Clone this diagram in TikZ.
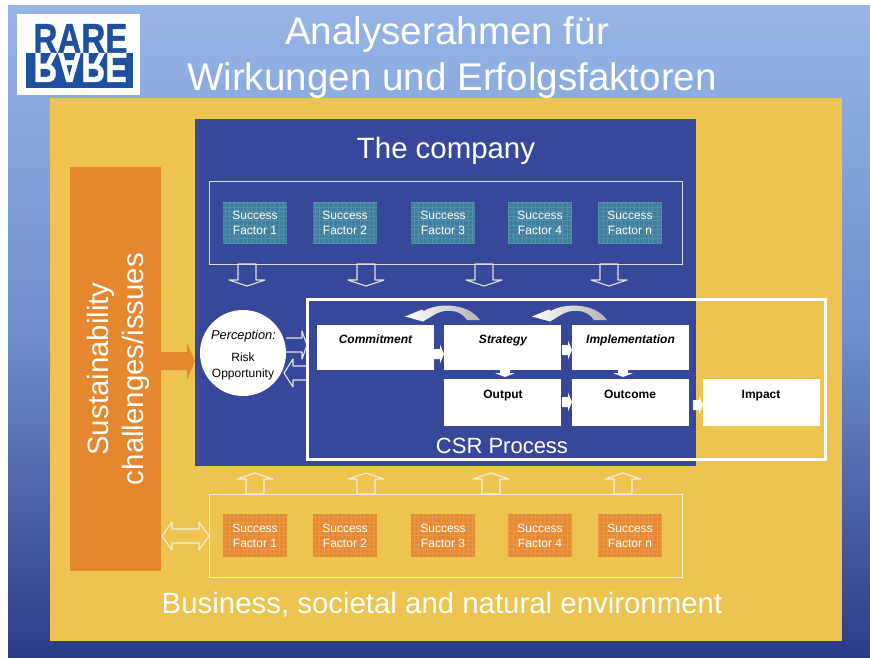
\documentclass[tikz,border=0pt]{standalone}
\usepackage{fontspec}
\setmainfont{Liberation Sans}
\newfontfamily\logofont{Liberation Sans Bold}[FakeBold=1.2]
\definecolor{bgtop}{HTML}{97B5E6}
\definecolor{bgmid}{HTML}{6F8FCB}
\definecolor{bgbot}{HTML}{2A3B85}
\definecolor{envyellow}{HTML}{ECC44F}
\definecolor{compblue}{HTML}{37489A}
\definecolor{issueorange}{HTML}{E5872E}
\definecolor{sfteal}{HTML}{3F7F9E}
\definecolor{sforange}{HTML}{E68A32}
\definecolor{logoblue}{HTML}{1F4F9F}
\definecolor{softwhite}{HTML}{F5F0D8}
\tikzset{
  x=1pt,y=-1pt,
  every node/.style={inner sep=0pt,outer sep=0pt,align=center,font=\fontsize{12}{15}\selectfont},
  factorframe/.style={draw=#1,line width=1pt},
  factorbox/.style={rectangle,minimum width=64pt,minimum height=42.5pt,fill=#1},
  factorgrid/.style={white,opacity=.12,line width=.4pt,step=4.5pt},
  factorlabel/.style={text=white,font=\fontsize{12}{15}\selectfont},
  procbox/.style={rectangle,fill=white,minimum width=117pt},
  proctext/.style={text=black,anchor=base,font=\fontsize{12}{14}\selectfont\bfseries},
  procitalic/.style={text=black,anchor=base,font=\fontsize{12}{14}\selectfont\bfseries\itshape},
  perctext/.style={text=black,anchor=base,font=\fontsize{12}{15}\selectfont},
  outlinearrow/.style={draw=#1,line width=1.1pt,line join=round},
  pics/downblock/.style={code={\draw[outlinearrow=#1] (-9,-22)--(9,-22)--(9,-6)--(18,-6)--(0,0)--(-18,-6)--(-9,-6)--cycle;}},
  pics/upblock/.style={code={\draw[outlinearrow=#1] (-9,21)--(9,21)--(9,6)--(18,6)--(0,0)--(-18,6)--(-9,6)--cycle;}},
  pics/smallright/.style={code={\fill[white] (-10,-5)--(-4,-5)--(-4,-9.5)--(0,0)--(-4,9.5)--(-4,5)--(-10,5)--cycle;}},
  pics/smalldown/.style={code={\fill[white] (-5,-7)--(5,-7)--(5,-4)--(10,-4)--(0,0)--(-10,-4)--(-5,-4)--cycle;}},
  pics/curvearrow/.style={code={\shade[left color=white,middle color=white,right color=black!30]
     (0,0)--(17,-7)--(19,-5.5)..controls (30,-13) and (62,-15) .. (75,3.5)--(62,3.5)
     ..controls (55,-8) and (38,-8) .. (28,-1)--(18,5)--cycle;}},
}
\begin{document}
\begin{tikzpicture}
\useasboundingbox (0,0) rectangle (870,657);
\fill[white] (0,0) rectangle (870,657);
\shade[top color=bgtop,bottom color=bgbot,middle color=bgmid] (8,5) rectangle (870,657);
% logo
\fill[white] (17,14) rectangle (140,95);
\fill[logoblue] (26,53) rectangle (133,88);
\node[text=logoblue,font=\fontsize{42}{42}\logofont,xscale=.79,anchor=base] (logoA) at (80.5,53) {RARE};
\node[text=white,font=\fontsize{42}{42}\logofont,xscale=.79,yscale=-1,anchor=base] (logoB) at (80.5,53) {RARE};
% title
\node[text=white,font=\fontsize{38.6}{44}\selectfont] (title1) at (447,35) {Analyserahmen für};
\node[text=white,font=\fontsize{38.6}{44}\selectfont] (title2) at (452,81) {Wirkungen und Erfolgsfaktoren};
% panels
\fill[envyellow] (50,98) rectangle (842,641);
\fill[compblue] (195,119) rectangle (696,466);
\fill[issueorange] (70,167) rectangle (161,571);
\node[text=white,rotate=90,font=\fontsize{29.4}{35}\selectfont] (issues) at (118,369) {Sustainability\\challenges/issues};
\node[text=white,font=\fontsize{29.4}{32}\selectfont] (company) at (446,151) {The company};
\node[text=white,font=\fontsize{29.4}{32}\selectfont] (env) at (442,605) {Business, societal and natural environment};
% factor frames
\draw[factorframe=black!15] (209,181) rectangle (682,264);
\draw[factorframe=softwhite] (209,494) rectangle (682,577);
% factor boxes
\foreach \n/\cx/\lab in {a/255/1,b/345/2,c/443/3,d/540/4,e/630/n}{
  \node[factorbox=sfteal] (top\n) at (\cx,223) {};
  \draw[factorgrid] (top\n.north west) grid (top\n.south east);
  \node[factorlabel] (toplab\n) at (top\n) {Success\\Factor \lab};
  \node[factorbox=sforange] (bot\n) at (\cx,535.5) {};
  \draw[factorgrid] (bot\n.north west) grid (bot\n.south east);
  \node[factorlabel] (botlab\n) at (bot\n) {Success\\Factor \lab};
}
% vertical block arrows
\foreach \cx in {247,366,484,609}{\pic at (\cx,286) {downblock=black!12};}
\foreach \cx in {255,366,491,623}{\pic at (\cx,473) {upblock=softwhite};}
% double arrow
\draw[outlinearrow=softwhite] (162,536)--(172,522)--(172,529)--(199,529)--(199,522)--(209,536)--(199,550)--(199,543)--(172,543)--(172,550)--cycle;
% perception
\node[circle,fill=white,minimum size=86pt] (perc) at (243,353) {};
\node[perctext,font=\fontsize{12.8}{15}\selectfont\itshape] (perc1) at (243.5,339.5) {Perception:};
\node[perctext] (perc2) at (243,361) {Risk};
\node[perctext] (perc3) at (243,377) {Opportunity};
\fill[issueorange] (161,352)--(187,352)--(187,343)--(195,361)--(187,380)--(187,370)--(161,370)--cycle;
\draw[outlinearrow=black!10] (286,338)--(302,338)--(302,331)--(307,345)--(302,359)--(302,352)--(286,352);
\draw[outlinearrow=black!10] (306,366)--(293,366)--(293,359)--(284,373)--(293,387)--(293,380)--(306,380);
% CSR frame
\draw[white,line width=3pt] (307,299) rectangle (825,459);
\node[text=white,font=\fontsize{22}{24}\selectfont] (csr) at (502,446) {CSR Process};
% process boxes
\node[procbox,minimum height=45pt] (commit) at (375.5,347.5) {};
\node[procbox,minimum height=45pt] (strat) at (502.5,347.5) {};
\node[procbox,minimum height=45pt] (impl) at (630,347.5) {};
\node[procbox,minimum height=47pt] (output) at (502.5,402.5) {};
\node[procbox,minimum height=47pt] (outcome) at (630,402.5) {};
\node[procbox,minimum height=47pt] (impact) at (761,402.5) {};
\node[procitalic] (commitlab) at (375.5,343) {Commitment};
\node[procitalic] (stratlab) at (503,343) {Strategy};
\node[procitalic] (impllab) at (630.5,343) {Implementation};
\node[proctext] (outputlab) at (503,398) {Output};
\node[proctext] (outcomelab) at (630,398) {Outcome};
\node[proctext] (impactlab) at (761,398) {Impact};
% process arrows
\pic at (444,354) {smallright};
\pic at (572,350) {smallright};
\pic at (572,402) {smallright};
\pic at (703,405) {smallright};
\pic at (505,377) {smalldown};
\pic at (623,377) {smalldown};
\pic at (405,316.5) {curvearrow};
\pic at (532,316.5) {curvearrow};
\end{tikzpicture}
\end{document}
